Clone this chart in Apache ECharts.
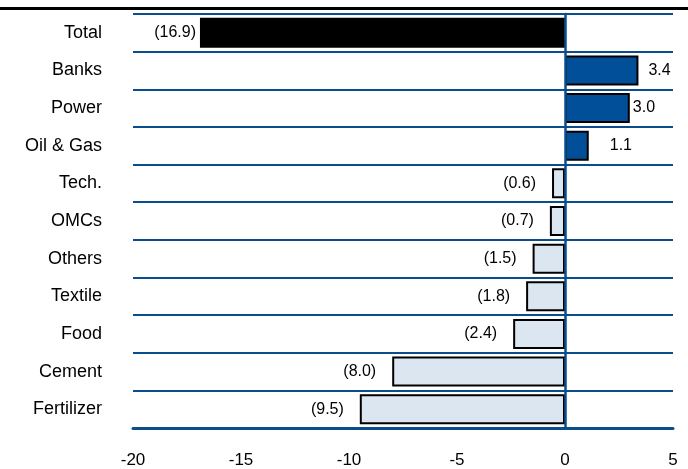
<!DOCTYPE html>
<html>
<head>
<meta charset="utf-8">
<script src="https://cdn.jsdelivr.net/npm/echarts@6/dist/echarts.min.js"></script>
<style>
html,body{margin:0;padding:0;background:#fff;}
#chart{width:688px;height:469px;}
</style>
</head>
<body>
<div id="chart"></div>
<script>
var categories = ['Total','Banks','Power','Oil & Gas','Tech.','OMCs','Others','Textile','Food','Cement','Fertilizer'];
var values = [-16.9, 3.4, 3.0, 1.1, -0.6, -0.7, -1.5, -1.8, -2.4, -8.0, -9.5];
var xTicks = [-20, -15, -10, -5, 0, 5];

var labelGap = [4, 10, 3, 21, 16, 16, 16, 16, 16, 16, 16];
var FONT = "'Liberation Sans', Arial, sans-serif";
var LINE = '#0A4D8C';

function fmt(v) {
  var s = Math.abs(v).toFixed(1);
  return v < 0 ? '(' + s + ')' : s;
}

var data = values.map(function (v, i) {
  var fill = i === 0 ? '#000000' : (v > 0 ? '#004F98' : '#DCE6F1');
  return {
    value: v,
    itemStyle: { color: fill, borderColor: '#000', borderWidth: 2 },
    label: { position: v < 0 ? 'left' : 'right', distance: labelGap[i] }
  };
});

var chart = echarts.init(document.getElementById('chart'), null, { renderer: 'canvas' });
chart.setOption({
  animation: false,
  backgroundColor: '#fff',
  graphic: [{
    type: 'rect', left: 0, top: 7, z: 10,
    shape: { width: 688, height: 3 },
    style: { fill: '#000' }
  }],
  grid: { left: 133, right: 15, top: 14, bottom: 41, containLabel: false },
  xAxis: {
    type: 'value', min: xTicks[0], max: xTicks[xTicks.length - 1], interval: 5,
    axisLine: { show: true, lineStyle: { color: LINE, width: 3 } },
    axisTick: { show: false },
    splitLine: { show: false },
    axisLabel: { color: '#000', fontFamily: FONT, fontSize: 17, margin: 24 }
  },
  yAxis: {
    type: 'category', data: categories, inverse: true, z: 5,
    axisLine: { show: true, onZero: true, lineStyle: { color: LINE, width: 2.5 } },
    axisTick: { show: false },
    splitLine: { show: true, lineStyle: { color: LINE, width: 2 } },
    axisLabel: { color: '#000', fontFamily: FONT, fontSize: 18, margin: 31 }
  },
  series: [{
    type: 'bar',
    data: data,
    barWidth: 30,
    label: {
      show: true, color: '#000', fontFamily: FONT, fontSize: 16,
      formatter: function (p) { return fmt(p.value); }
    }
  }]
});
</script>
</body>
</html>
